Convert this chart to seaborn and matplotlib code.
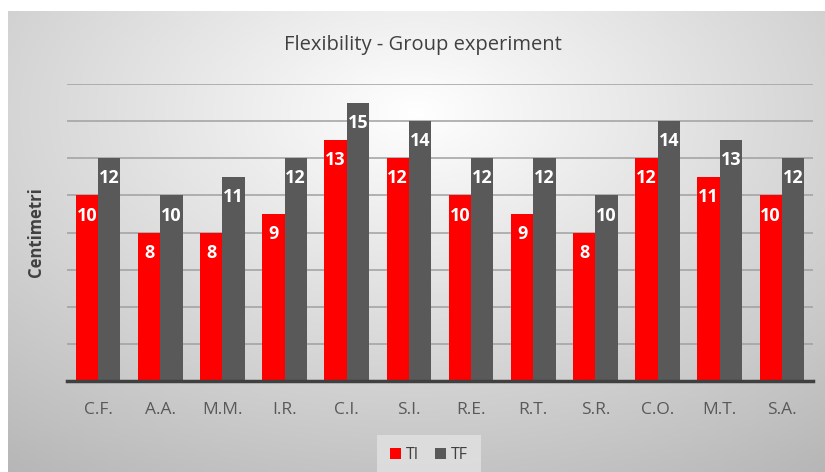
import numpy as np
import pandas as pd
import matplotlib
matplotlib.use("Agg")
import matplotlib.pyplot as plt
import seaborn as sns

categories = ["C.F.", "A.A.", "M.M.", "I.R.", "C.I.", "S.I.", "R.E.", "R.T.", "S.R.", "C.O.", "M.T.", "S.A."]
ti_values = [10, 8, 8, 9, 13, 12, 10, 9, 8, 12, 11, 10]
tf_values = [12, 10, 11, 12, 15, 14, 12, 12, 10, 14, 13, 12]
series_names = ["TI", "TF"]
colors = ["#FF0000", "#595959"]

df = pd.DataFrame({
    "cat": categories * 2,
    "val": ti_values + tf_values,
    "series": [series_names[0]] * len(categories) + [series_names[1]] * len(categories),
})

sns.set_theme(style="white")
plt.rcParams['font.family'] = ['Open Sans', 'DejaVu Sans']

W, H = 825, 472
fig = plt.figure(figsize=(W / 100, H / 100), dpi=100)
fig.patch.set_facecolor("white")

# background gradient panel
bg = fig.add_axes([8 / W, 0, 1 - 8 / W, 1 - 11 / H])
yy, xx = np.mgrid[0:1:200j, 0:1:300j]
r = np.sqrt(((xx - 0.5) * 1.0) ** 2 + ((yy - 0.22) * 0.9) ** 2)
val = np.clip(1.0 - 0.33 * r, 0, 1)
img = np.dstack([val, val, val])
bg.imshow(img, aspect="auto", extent=[0, 1, 0, 1], origin="upper", interpolation="bicubic")
bg.set_axis_off()

ax = fig.add_axes([67 / W, 1 - 381 / H, (813 - 67) / W, (381 - 84) / H])
ax.patch.set_alpha(0)
ax.set_zorder(2)

sns.barplot(data=df, x="cat", y="val", hue="series", palette=colors, width=0.72,
            gap=0, ax=ax, legend=True, saturation=1, linewidth=0, zorder=3)

ax.set_ylim(0, 16)
ax.set_yticks(np.arange(2, 17, 2))
ax.set_yticklabels([])
ax.yaxis.grid(True, color="#a0a0a0", linewidth=1.1, zorder=0)
ax.set_axisbelow(True)
ax.tick_params(axis="y", length=0)
ax.tick_params(axis="x", length=0, labelsize=12.5, labelcolor="#595959", pad=15)
for s in ["top", "right", "left"]:
    ax.spines[s].set_visible(False)
ax.spines["bottom"].set_color("#404040")
ax.spines["bottom"].set_linewidth(2.5)
ax.spines["bottom"].set_zorder(10)
ax.set_xlabel("")
ax.set_ylabel("Centimetri", fontsize=12, fontweight="bold", color="#404040", labelpad=12)

for cont in ax.containers:
    ax.bar_label(cont, labels=[f"{int(v)}" for v in cont.datavalues], label_type="edge",
                 padding=-21, color="white", fontsize=13, fontweight="bold")

leg = ax.legend(loc="upper center", bbox_to_anchor=(0.485, -0.17), ncol=2, frameon=True,
                fontsize=11.5, handlelength=0.7, handleheight=0.7, handletextpad=0.3,
                columnspacing=1.0, borderpad=0.5)
leg.get_frame().set_facecolor("#e2e2e2")
leg.get_frame().set_edgecolor("none")
leg.get_frame().set_boxstyle("square")
for t in leg.get_texts():
    t.set_color("#404040")

fig.text(0.513, 1 - 45 / H, "Flexibility - Group experiment", ha="center", va="center",
         fontsize=14.5, color="#404040")

fig.savefig("out.png", dpi=100)
